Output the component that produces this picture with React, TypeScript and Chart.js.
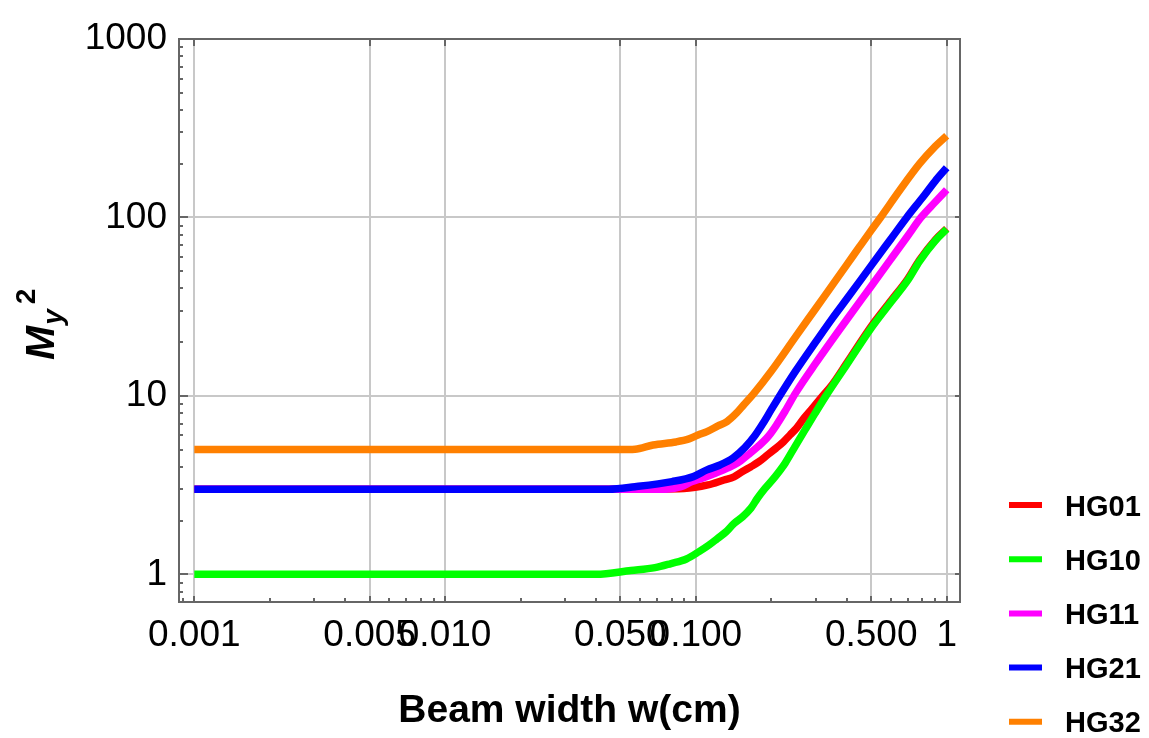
import React, { useEffect, useRef } from "react";
import { Chart, registerables } from "chart.js";

Chart.register(...registerables);

// ---------- data ----------
const seriesNames = ["HG01", "HG10", "HG11", "HG21", "HG32"];
const seriesColors = ["#ff0000", "#00ff00", "#ff00ff", "#0000ff", "#ff8000"];

const hg01X = [0.001, 0.02, 0.0522, 0.0896, 0.1117, 0.1294, 0.1419, 0.1534, 0.1658, 0.1785, 0.193, 0.2086, 0.2236, 0.2372, 0.2518, 0.2698, 0.2917, 0.3184, 0.3488, 0.4, 0.5, 0.6, 0.7, 0.78, 0.9, 1.0];
const hg01Y = [3.0, 3.0, 3.0, 3.03, 3.17, 3.38, 3.52, 3.77, 4.01, 4.28, 4.67, 5.09, 5.54, 6.04, 6.59, 7.5, 8.53, 9.91, 11.5, 15.3, 24.5, 34.2, 45.3, 57.8, 74.8, 86.5];

const hg10X = [0.001, 0.04, 0.0551, 0.0687, 0.0796, 0.0917, 0.1029, 0.1128, 0.122, 0.1318, 0.1419, 0.1534, 0.1658, 0.176, 0.1886, 0.2067, 0.2267, 0.2484, 0.2723, 0.2985, 0.33, 0.4, 0.5, 0.6, 0.7, 0.78, 0.9, 1.0];
const hg10Y = [1.0, 1.0, 1.05, 1.09, 1.15, 1.22, 1.34, 1.46, 1.59, 1.73, 1.93, 2.1, 2.35, 2.67, 3.03, 3.52, 4.19, 5.2, 6.45, 7.98, 10.0, 15.0, 24.0, 33.6, 44.5, 57, 74, 86];

const hg11X = [0.001, 0.076, 0.0872, 0.0965, 0.1067, 0.1202, 0.1342, 0.1468, 0.1613, 0.1769, 0.1938, 0.2086, 0.2267, 0.25, 0.3, 0.4, 0.5, 0.6, 0.7, 0.79, 0.9, 1.0];
const hg11Y = [3.0, 3.0, 3.1, 3.31, 3.47, 3.7, 3.95, 4.21, 4.67, 5.2, 5.9, 6.8, 8.2, 10.4, 15.2, 26.8, 41.2, 58.6, 79, 100, 122, 143];

const hg21X = [0.001, 0.045, 0.0572, 0.0803, 0.0977, 0.1107, 0.1248, 0.1406, 0.157, 0.172, 0.185, 0.2, 0.21, 0.25, 0.3, 0.35, 0.4, 0.5, 0.6, 0.693, 0.8, 0.9, 1.0];
const hg21Y = [3.0, 3.0, 3.1, 3.31, 3.53, 3.85, 4.1, 4.49, 5.15, 6.0, 7.0, 8.4, 9.4, 13.8, 20.0, 27.2, 35, 53.7, 76, 100, 129, 160, 190];

const hg32X = [0.001, 0.05, 0.0572, 0.0675, 0.0833, 0.0939, 0.102, 0.1107, 0.1225, 0.133, 0.145, 0.155, 0.17, 0.2, 0.25, 0.3, 0.35, 0.4, 0.45, 0.5, 0.545, 0.65, 0.78, 0.9, 1.0];
const hg32Y = [5.0, 5.0, 5.02, 5.31, 5.52, 5.74, 6.04, 6.31, 6.79, 7.18, 8.0, 8.9, 10.3, 13.8, 21.5, 30.8, 41.8, 54.4, 68.8, 84.7, 100, 142, 200, 250, 287];

const seriesX = [hg01X, hg10X, hg11X, hg21X, hg32X];
const seriesY = [hg01Y, hg10Y, hg11Y, hg21Y, hg32Y];

const xMajorTicks = [0.001, 0.005, 0.01, 0.05, 0.1, 0.5, 1];
const xTickLabels = ["0.001", "0.005", "0.010", "0.050", "0.100", "0.500", "1"];
const xMinorTicks = [0.0009, 0.002, 0.003, 0.004, 0.006, 0.007, 0.008, 0.009, 0.02, 0.03, 0.04, 0.06, 0.07, 0.08, 0.09, 0.2, 0.3, 0.4, 0.6, 0.7, 0.8, 0.9];
const yMajorTicks = [1, 10, 100, 1000];
const yTickLabels = ["1", "10", "100", "1000"];
const yMinorTicks = [0.8, 0.9, 2, 3, 4, 5, 6, 7, 8, 9, 20, 30, 40, 50, 60, 70, 80, 90, 200, 300, 400, 500, 600, 700, 800, 900];

const xMin = 0.000869;
const xMax = 1.13;
const yMin = 0.702;
const yMax = 1000;

const xTitle = "Beam width w(cm)";

// ---------- styling ----------
const SANS = "'Liberation Sans', Arial, sans-serif";
const GRID = "#c8c8c8";
const FRAME = "#666666";

const near = (a: number, b: number) => Math.abs(Math.log10(a) - Math.log10(b)) < 1e-6;
const majorIndex = (list: number[], v: number) => list.findIndex((m) => near(m, v));

const framePlugin = {
  id: "frameTicks",
  afterDraw(chart: any) {
    const { ctx, chartArea: a, scales } = chart;
    const x = scales.x;
    const y = scales.y;
    ctx.save();
    ctx.strokeStyle = FRAME;
    ctx.lineWidth = 2;
    ctx.strokeRect(a.left, a.top, a.right - a.left, a.bottom - a.top);
    ctx.beginPath();
    for (const v of xMajorTicks) {
      const p = Math.round(x.getPixelForValue(v));
      ctx.moveTo(p, a.bottom);
      ctx.lineTo(p, a.bottom - 6);
      ctx.moveTo(p, a.top);
      ctx.lineTo(p, a.top + 7);
    }
    for (const v of xMinorTicks) {
      const p = Math.round(x.getPixelForValue(v));
      ctx.moveTo(p, a.bottom);
      ctx.lineTo(p, a.bottom - 4);
    }
    for (const v of yMajorTicks) {
      const p = Math.round(y.getPixelForValue(v));
      ctx.moveTo(a.left, p);
      ctx.lineTo(a.left + 9, p);
      ctx.moveTo(a.right, p);
      ctx.lineTo(a.right - 5, p);
    }
    for (const v of yMinorTicks) {
      const p = Math.round(y.getPixelForValue(v));
      ctx.moveTo(a.left, p);
      ctx.lineTo(a.left + 4, p);
    }
    ctx.stroke();

    // y axis title: M_y^2 (rotated)
    ctx.save();
    ctx.translate(54, 360);
    ctx.rotate(-Math.PI / 2);
    ctx.fillStyle = "#000";
    ctx.textBaseline = "alphabetic";
    ctx.textAlign = "left";
    ctx.font = `italic bold 41px ${SANS}`;
    ctx.fillText("M", 0, 0);
    const wM = ctx.measureText("M").width;
    ctx.font = `italic bold 28px ${SANS}`;
    ctx.fillText("y", wM + 1, 7.5);
    const wy = ctx.measureText("y").width;
    ctx.font = `bold 28px ${SANS}`;
    ctx.fillText("2", wM + wy + 6, -19);
    ctx.restore();

    // legend
    ctx.font = `bold 29px ${SANS}`;
    ctx.textAlign = "left";
    ctx.textBaseline = "alphabetic";
    seriesNames.forEach((name, i) => {
      const cy = 505 + i * 54.2;
      ctx.strokeStyle = seriesColors[i];
      ctx.lineWidth = 6;
      ctx.beginPath();
      ctx.moveTo(1009, cy);
      ctx.lineTo(1042, cy);
      ctx.stroke();
      ctx.fillStyle = "#000";
      ctx.fillText(name, 1065, cy + 10.5);
    });
    ctx.restore();
  },
};

export default function App() {
  const canvasRef = useRef<HTMLCanvasElement | null>(null);

  useEffect(() => {
    const canvas = canvasRef.current;
    if (!canvas) return;

    const datasets = seriesNames.map((name, i) => ({
      label: name,
      data: seriesX[i].map((xv, j) => ({ x: xv, y: seriesY[i][j] })),
      borderColor: seriesColors[i],
      backgroundColor: seriesColors[i],
      borderWidth: 7.5,
      pointRadius: 0,
      pointHoverRadius: 0,
      fill: false,
      tension: 0,
      cubicInterpolationMode: "monotone" as const,
      borderCapStyle: "butt" as const,
      borderJoinStyle: "round" as const,
      order: seriesNames.length - i,
    }));

    const allX = [...xMajorTicks, ...xMinorTicks].sort((a, b) => a - b);
    const allY = [...yMajorTicks, ...yMinorTicks].sort((a, b) => a - b);

    const chart = new Chart(canvas, {
      type: "line",
      data: { datasets },
      plugins: [framePlugin],
      options: {
        animation: false,
        responsive: false,
        devicePixelRatio: 1,
        layout: { padding: { left: 0, top: 39, right: 189, bottom: 0 } },
        plugins: { legend: { display: false }, tooltip: { enabled: false } },
        scales: {
          x: {
            type: "logarithmic",
            min: xMin,
            max: xMax,
            afterBuildTicks: (scale: any) => {
              scale.ticks = allX.map((v) => ({ value: v }));
            },
            afterFit: (scale: any) => {
              scale.height = 136;
            },
            ticks: {
              autoSkip: false,
              maxRotation: 0,
              minRotation: 0,
              padding: 12,
              color: "#000",
              font: { family: SANS, size: 37 },
              callback: (_v: any, idx: number) => {
                const k = majorIndex(xMajorTicks, allX[idx]);
                return k >= 0 ? xTickLabels[k] : "";
              },
            },
            grid: {
              drawTicks: false,
              lineWidth: 2,
              color: (c: any) => (c.tick && majorIndex(xMajorTicks, c.tick.value) >= 0 ? GRID : "rgba(0,0,0,0)"),
            },
            border: { display: false },
            title: {
              display: true,
              text: xTitle,
              color: "#000",
              font: { family: SANS, size: 39, weight: "bold", lineHeight: 1 },
              padding: { top: 0, bottom: 7 },
            },
          },
          y: {
            type: "logarithmic",
            min: yMin,
            max: yMax,
            afterBuildTicks: (scale: any) => {
              scale.ticks = allY.map((v) => ({ value: v }));
            },
            afterFit: (scale: any) => {
              scale.width = 179;
            },
            ticks: {
              autoSkip: false,
              padding: 12,
              color: "#000",
              font: { family: SANS, size: 37 },
              callback: (_v: any, idx: number) => {
                const k = majorIndex(yMajorTicks, allY[idx]);
                return k >= 0 ? yTickLabels[k] : "";
              },
            },
            grid: {
              drawTicks: false,
              lineWidth: 2,
              color: (c: any) => (c.tick && majorIndex(yMajorTicks, c.tick.value) >= 0 ? GRID : "rgba(0,0,0,0)"),
            },
            border: { display: false },
          },
        },
      } as any,
    });

    return () => chart.destroy();
  }, []);

  return (
    <div style={{ position: "fixed", left: 0, top: 0, width: 1149, height: 738, background: "#fff" }}>
      <canvas ref={canvasRef} width={1149} height={738} style={{ display: "block", width: 1149, height: 738 }} />
    </div>
  );
}
